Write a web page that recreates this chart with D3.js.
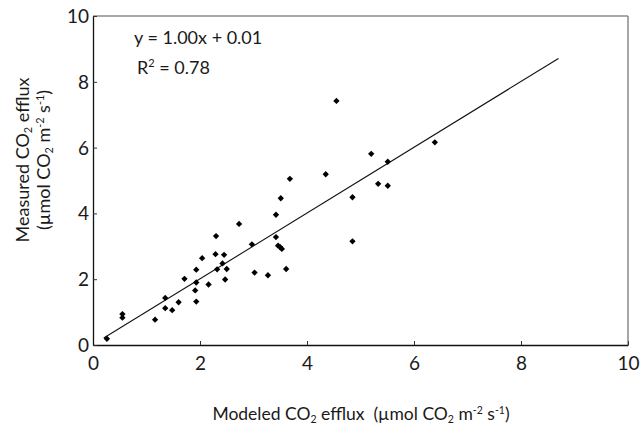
<!DOCTYPE html>
<html>
<head>
<meta charset="utf-8">
<script src="https://cdn.jsdelivr.net/npm/d3@7"></script>
<style>
  body { margin: 0; background: #fff; }
  text { font-family: Lato, "Open Sans", sans-serif; fill: #1a1a1a; white-space: pre; }
</style>
</head>
<body>
<svg id="chart"></svg>
<script>
// ─── Data ─────────────────────────────────────────────────────────────────────
const modeled = [
  0.26, 0.55, 0.55, 1.16, 1.35, 1.35, 1.48, 1.60, 1.71, 1.93, 1.93, 1.91,
  1.93, 2.04, 2.16, 2.30, 2.29, 2.32, 2.45, 2.42, 2.50, 2.47, 2.73, 2.97,
  3.02, 3.27, 3.42, 3.42, 3.46, 3.50, 3.53, 3.61, 3.51, 3.68, 4.35, 4.85,
  4.85, 4.55, 5.20, 5.51, 5.33, 5.51, 6.39
];
const measured = [
  0.19, 0.94, 0.83, 0.77, 1.43, 1.12, 1.06, 1.30, 2.01, 2.29, 1.90, 1.66,
  1.32, 2.64, 1.84, 3.31, 2.76, 2.30, 2.74, 2.48, 2.31, 1.99, 3.68, 3.06,
  2.20, 2.12, 3.96, 3.28, 3.02, 2.97, 2.92, 2.31, 4.46, 5.05, 5.19, 4.49,
  3.15, 7.42, 5.81, 5.57, 4.90, 4.84, 6.16
];
const fitSlope = 1.00;
const fitIntercept = 0.01;
const fitRange = [0.2, 8.7];
const axisTicks = [0, 2, 4, 6, 8, 10];

// ─── Layout ───────────────────────────────────────────────────────────────────
const W = 642, H = 425;
const margin = { top: 16, right: 14, bottom: 80, left: 93 };
const innerW = W - margin.left - margin.right;
const innerH = H - margin.top - margin.bottom;

const svg = d3.select("#chart").attr("width", W).attr("height", H);
const g = svg.append("g").attr("transform", `translate(${margin.left},${margin.top})`);

const x = d3.scaleLinear().domain([0, 10]).range([0, innerW]);
const y = d3.scaleLinear().domain([0, 10]).range([innerH, 0]);

// Frame: top/right lighter
g.append("line").attr("x1", 0).attr("x2", innerW).attr("y1", 0).attr("y2", 0)
  .attr("stroke", "#555").attr("stroke-width", 1.2);
g.append("line").attr("x1", innerW).attr("x2", innerW).attr("y1", 0).attr("y2", innerH)
  .attr("stroke", "#888").attr("stroke-width", 1.5);

// Axes with inward ticks
const xAxis = g.append("g").attr("transform", `translate(0,${innerH})`)
  .call(d3.axisBottom(x).tickValues(axisTicks).tickSizeInner(-4).tickSizeOuter(0).tickPadding(12));
const yAxis = g.append("g")
  .call(d3.axisLeft(y).tickValues(axisTicks).tickSizeInner(-4).tickSizeOuter(0).tickPadding(4));
[xAxis, yAxis].forEach(a => {
  a.select(".domain").attr("stroke", "#111").attr("stroke-width", 1.3);
  a.selectAll(".tick line").attr("stroke", "#333");
  a.selectAll(".tick text").attr("font-size", 19).attr("fill", "#1a1a1a")
    .style("font-family", "Lato, sans-serif");
});
xAxis.selectAll(".tick text").attr("dy", "0.71em");
yAxis.selectAll(".tick text").attr("dy", "0.34em");

// Fit line
const line = d3.line().x(d => x(d)).y(d => y(fitSlope * d + fitIntercept));
g.append("path").attr("d", line(fitRange))
  .attr("fill", "none").attr("stroke", "#111").attr("stroke-width", 1.1);

// Points (diamonds)
const pts = modeled.map((m, i) => ({ m, v: measured[i] }));
const diamond = d3.symbol(d3.symbolSquare, 20);
g.selectAll("path.pt").data(pts).join("path")
  .attr("class", "pt")
  .attr("d", diamond)
  .attr("transform", d => `translate(${x(d.m)},${y(d.v)}) rotate(45)`)
  .attr("fill", "#000");

// Equation text
g.append("text").attr("x", 41).attr("y", 28).attr("font-size", 18).text("y = 1.00x + 0.01");
const r2 = g.append("text").attr("x", 44).attr("y", 58).attr("font-size", 18);
r2.append("tspan").text("R");
r2.append("tspan").attr("font-size", 11).attr("dy", -7).text("2");
r2.append("tspan").attr("dy", 7).text(" = 0.78");

// Rich text helper: parts [text, "sub"|"sup"|null]
function rich(sel, parts, size) {
  parts.forEach(([t, k]) => {
    const ts = sel.append("tspan").text(t);
    if (k === "sub") ts.attr("font-size", size * 0.6).attr("baseline-shift", "-25%");
    if (k === "sup") ts.attr("font-size", size * 0.6).attr("baseline-shift", "55%");
  });
}

// X title
const xt = svg.append("text").attr("x", 361).attr("y", 420).attr("text-anchor", "middle")
  .attr("font-size", 17.5);
rich(xt, [["Modeled CO"], ["2", "sub"], [" efflux  (\u00b5mol CO"], ["2", "sub"],
  [" m"], ["-2", "sup"], [" s"], ["-1", "sup"], [")"]], 17.5);

// Y title (two lines)
const yt1 = svg.append("text").attr("transform", "translate(29,160) rotate(-90)")
  .attr("text-anchor", "middle").attr("font-size", 18);
rich(yt1, [["Measured CO"], ["2", "sub"], [" efflux"]], 18);
const yt2 = svg.append("text").attr("transform", "translate(50,160) rotate(-90)")
  .attr("text-anchor", "middle").attr("font-size", 18);
rich(yt2, [["(\u00b5mol CO"], ["2", "sub"], [" m"], ["-2", "sup"], [" s"], ["-1", "sup"], [")"]], 18);
</script>
</body>
</html>
